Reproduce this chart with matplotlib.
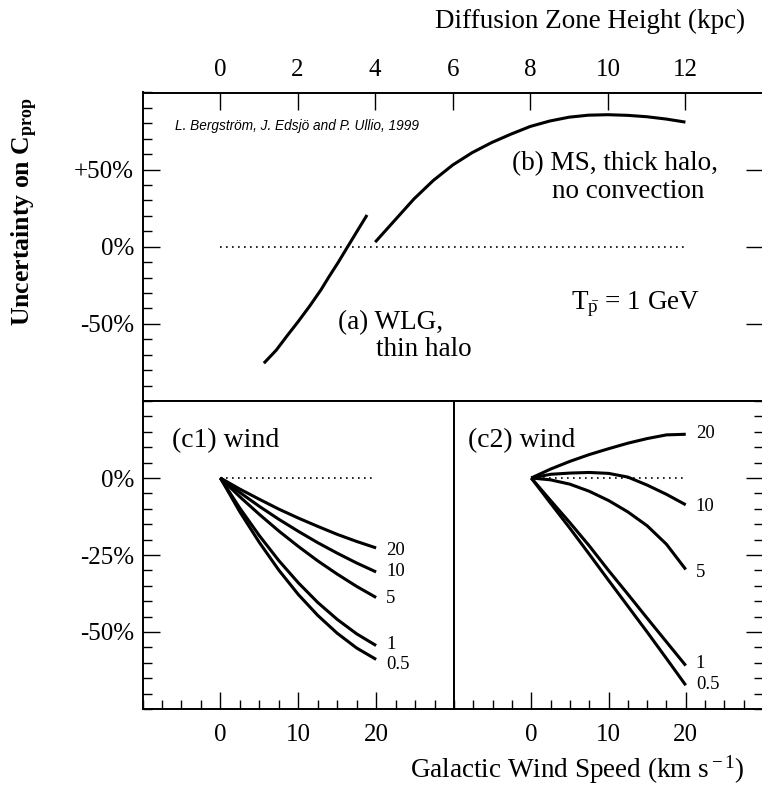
import numpy as np
import matplotlib
matplotlib.use("Agg")
import matplotlib.pyplot as plt
from matplotlib.ticker import MultipleLocator, FixedLocator

plt.rcParams['font.family'] = 'Liberation Serif'
plt.rcParams['mathtext.fontset'] = 'custom'
plt.rcParams['mathtext.rm'] = 'Liberation Serif'
plt.rcParams['mathtext.it'] = 'Liberation Serif:italic'
plt.rcParams['mathtext.bf'] = 'Liberation Serif:bold'

# (a) WLG, thin halo
wlg_kpc = [1.13, 1.45, 1.72, 2.0, 2.31, 2.6, 2.82, 3.05, 3.29, 3.58, 3.79]
wlg_unc = [-75.5, -67, -58, -49, -38.5, -28, -19, -10, 0, 12, 20.6]

# (b) MS, thick halo, no convection
ms_kpc = [4.0, 4.5, 5.0, 5.5, 6.0, 6.5, 7.0, 7.5, 8.0, 8.5, 9.0, 9.5, 10.0, 10.5, 11.0, 11.5, 12.0]
ms_unc = [3, 17, 31, 43, 53, 61, 67.5, 73, 78, 81.5, 84, 85.3, 85.6, 85.2, 84.3, 82.8, 80.8]

# wind panels
wind = [0, 2.5, 5, 7.5, 10, 12.5, 15, 17.5, 20]
curve_labels = ["20", "10", "5", "1", "0.5"]

c1_20 = [0, -3.6, -6.9, -10.1, -13.0, -15.7, -18.3, -20.6, -22.7]
c1_10 = [0, -4.7, -9.2, -13.4, -17.3, -21.0, -24.4, -27.6, -30.5]
c1_5 = [0, -6.1, -11.8, -17.2, -22.2, -26.9, -31.2, -35.2, -38.8]
c1_1 = [0, -9.8, -18.7, -26.8, -34.0, -40.4, -45.9, -50.6, -54.4]
c1_05 = [0, -11.0, -20.9, -29.9, -37.8, -44.6, -50.4, -55.2, -58.9]

c2_20 = [0, 2.9, 5.4, 7.6, 9.5, 11.3, 12.8, 14.0, 14.2]
c2_10 = [0, 1.2, 1.6, 1.8, 1.5, 0.3, -2.3, -5.3, -8.7]
c2_5 = [0, -0.6, -2.0, -4.3, -7.3, -11.0, -15.5, -21.5, -29.7]
c2_1 = [0, -7.3, -14.5, -22.0, -30.0, -37.7, -45.5, -53.2, -60.9]
c2_05 = [0, -8.2, -16.3, -24.7, -33.2, -41.6, -50.0, -58.6, -67.3]

c1_curves = [c1_20, c1_10, c1_5, c1_1, c1_05]
c2_curves = [c2_20, c2_10, c2_5, c2_1, c2_05]
c1_label_nudge = [-0.8, 0, -0.2, 0.5, -1.7]
c2_label_nudge = [0.3, -0.7, -0.9, 0.6, 0.2]

W, H = 762, 796
fig = plt.figure(figsize=(W / 100, H / 100), dpi=100)


def box(l, t, r, b):
    return [l / W, 1 - b / H, (r - l) / W, (b - t) / H]


ax_top = fig.add_axes(box(142.5, 92.5, 763, 401))
ax_c1 = fig.add_axes(box(142.5, 401, 454, 709))
ax_c2 = fig.add_axes(box(454, 401, 763, 709))

LW = 2.2
dot = dict(color="black", lw=1.2, linestyle=(0, (1, 2.6)))

for ax in (ax_top, ax_c1, ax_c2):
    for s in ax.spines.values():
        s.set_linewidth(1.4)
    ax.tick_params(which="both", direction="in", width=1.0, labelsize=18)
    ax.tick_params(which="major", length=12.5)
    ax.tick_params(which="minor", length=6.5)

# ---- top panel
ax_top.plot(wlg_kpc, wlg_unc, color="black", lw=LW, solid_capstyle="butt")
ax_top.plot(ms_kpc, ms_unc, color="black", lw=LW, solid_capstyle="butt")
ax_top.plot([0, 12], [0, 0], **dot)
ax_top.set_xlim(-2, 14)
ax_top.set_ylim(-100, 100)
ax_top.xaxis.set_major_locator(FixedLocator(np.arange(0, 13, 2)))
ax_top.xaxis.set_minor_locator(MultipleLocator(0.5))
ax_top.set_yticks([-50, 0, 50])
ax_top.set_yticklabels(["-50%", "0%", "+50%"])
ax_top.yaxis.set_minor_locator(MultipleLocator(10))
ax_top.tick_params(top=True, bottom=False, left=True, right=True,
                   labeltop=True, labelbottom=False, labelleft=True, labelright=False)
ax_top.tick_params(axis="x", which="both", bottom=False, pad=8)
ax_top.tick_params(axis="y", pad=6)

ax_top.text(-1.16, 78, "L. Bergström, J. Edsjö and P. Ullio, 1999",
            family="Liberation Sans", style="italic", fontsize=9.8, va="center")
ax_top.text(7.52, 49.7, "(b) MS, thick halo,", fontsize=19.5, va="baseline")
ax_top.text(8.55, 31.6, "no convection", fontsize=19.5, va="baseline")
ax_top.text(3.03, -53.5, "(a) WLG,", fontsize=19.5, va="baseline")
ax_top.text(4.03, -71, "thin halo", fontsize=19.5, va="baseline")
ax_top.text(9.04, -40.6, r"T$_{\bar{\rm p}}$ = 1 GeV", fontsize=19.5, va="baseline")

# ---- wind panels
for ax, curves, nudges, name, tx in ((ax_c1, c1_curves, c1_label_nudge, "(c1) wind", -6.2),
                                     (ax_c2, c2_curves, c2_label_nudge, "(c2) wind", -8.2)):
    ax.plot([0, 20], [0, 0], **dot)
    for vals, lab, nd in zip(curves, curve_labels, nudges):
        ax.plot(wind, vals, color="black", lw=LW, solid_capstyle="butt")
        ax.text(wind[-1] + 1.3, vals[-1] + nd, lab, fontsize=13.5, va="center")
    ax.set_xlim(-10, 30)
    ax.set_ylim(-75, 25)
    ax.set_xticks([0, 10, 20])
    ax.xaxis.set_minor_locator(MultipleLocator(2.5))
    ax.set_yticks([-50, -25, 0])
    ax.yaxis.set_minor_locator(MultipleLocator(5))
    ax.text(tx, 10, name, fontsize=20, va="baseline")
    ax.tick_params(axis="x", which="both", top=False, bottom=True, pad=11)

ax_c1.set_yticklabels(["-50%", "-25%", "0%"])
ax_c1.tick_params(axis="y", which="both", left=True, right=False, pad=6)
ax_c2.tick_params(axis="y", which="both", left=False, right=True,
                  labelleft=False, labelright=False)

# ---- axis titles
fig.text(745 / W, 1 - 28 / H, "Diffusion Zone Height (kpc)", fontsize=19.5,
         ha="right", va="baseline")
fig.text(745 / W, 1 - 778 / H, r"Galactic Wind Speed (km s$^{\rm -1}$)", fontsize=19.5,
         ha="right", va="baseline")
fig.text(25 / W, 1 - 212 / H, r"Uncertainty on C$_{\mathbf{prop}}$", fontsize=18.5,
         fontweight="bold", rotation=90, ha="center", va="center")

fig.savefig("out.png", dpi=100)
